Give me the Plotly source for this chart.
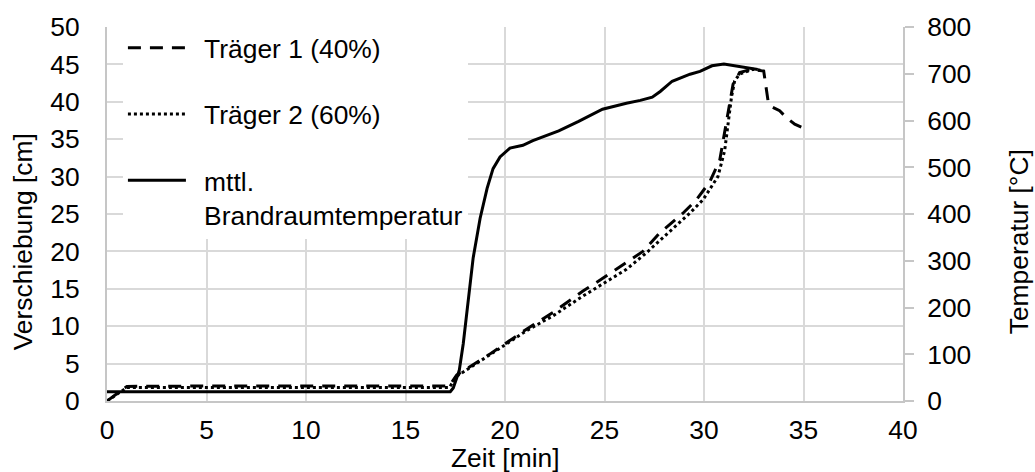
import plotly.graph_objects as go

# Zeit [min] und Verschiebung [cm] – Träger 1 (40%)
t_traeger1 = [0, 1.0, 5, 10, 15, 17.2, 17.57, 18.4, 19.2, 20.0, 21.08, 22.42, 23.92,
              24.97, 26.1, 26.93, 27.77, 28.94, 29.62, 30.29, 30.79, 31.04, 31.26,
              31.46, 31.79, 32.38, 33.0, 33.22, 33.39, 33.8, 34.14, 34.56, 35.0]
v_traeger1 = [0, 1.95, 2.0, 2.0, 2.0, 2.0, 3.45, 4.8, 6.2, 7.65, 9.6, 11.85, 14.7,
              16.5, 18.5, 20.0, 22.45, 25.1, 26.9, 29.3, 32.2, 35.7, 39.3,
              42.35, 43.9, 44.35, 44.1, 40.1, 39.35, 38.8, 37.9, 37.0, 36.5]

# Zeit [min] und Verschiebung [cm] – Träger 2 (60%)
t_traeger2 = [0, 1.0, 5, 10, 15, 17.2, 17.57, 18.4, 20.0, 21.08, 22.42, 23.9, 24.97,
              26.1, 27.1, 28.44, 29.28, 29.95, 30.7, 31.04, 31.2, 31.38, 31.54,
              31.79, 32.46, 32.9]
v_traeger2 = [0, 1.8, 1.8, 1.8, 1.8, 1.8, 3.3, 4.7, 7.5, 9.4, 11.4, 14.0, 15.8,
              17.6, 19.8, 23.0, 25.1, 26.9, 30.0, 33.5, 37.0, 40.6, 42.8,
              43.7, 44.35, 44.2]

# Zeit [min] und mittlere Brandraumtemperatur [°C]
t_temp = [0, 17.25, 17.4, 17.55, 17.7, 17.9, 18.15, 18.4, 18.75, 19.1, 19.4, 19.75,
          20.25, 20.9, 21.4, 22.0, 22.7, 23.7, 24.9, 26.1, 26.8, 27.4, 27.8, 28.4,
          29.3, 29.8, 30.4, 31.0, 31.8, 32.5, 32.7]
temp = [20, 20, 28, 45, 65, 122, 221, 306, 391, 455, 497, 522,
        541, 547, 557, 567, 578, 598, 624, 637, 643, 650, 662, 684,
        699, 705, 717, 721, 716, 711, 709]

x_ticks = list(range(0, 41, 5))
y_ticks = list(range(0, 51, 5))
y2_ticks = list(range(0, 801, 100))

FONT = "Liberation Sans, Arial, sans-serif"
FS = 26.4
GRID = "#d9d9d9"
AXIS = "#c6c6c6"
PAD = "\u2002"  # gap between legend line and legend text

fig = go.Figure()
fig.add_trace(go.Scatter(
    x=t_traeger1, y=v_traeger1, name=PAD + "Träger 1 (40%)", mode="lines",
    line=dict(color="black", width=3, dash="13px,9px"), legendgroup="a"))
fig.add_trace(go.Scatter(
    x=t_traeger2, y=v_traeger2, name=PAD + "Träger 2 (60%)", mode="lines",
    line=dict(color="black", width=3, dash="3px,3px"), legendgroup="b"))
fig.add_trace(go.Scatter(
    x=t_temp, y=temp, name=PAD + "mttl.<br>" + PAD + "Brandraumtemperatur", mode="lines",
    line=dict(color="black", width=3),
    yaxis="y2", legendgroup="c"))

fig.update_layout(
    width=1035, height=472,
    margin=dict(l=107, r=132, t=24, b=71),
    paper_bgcolor="white", plot_bgcolor="white",
    font=dict(family=FONT, size=FS, color="black"),
    showlegend=True,
    legend=dict(
        x=0.02, y=1.008, xanchor="left", yanchor="top",
        bgcolor="white", borderwidth=0,
        font=dict(family=FONT, size=FS, color="black"),
        itemwidth=58, tracegroupgap=29, valign="top",
        traceorder="grouped",
    ),
    xaxis=dict(
        range=[0, 40], tickvals=x_ticks, ticks="",
        showgrid=True, gridcolor=GRID, gridwidth=2,
        showline=True, linecolor=AXIS, linewidth=2,
        zeroline=False, ticklabelstandoff=4,
    ),
    yaxis=dict(
        range=[0, 50], tickvals=y_ticks, ticks="",
        showgrid=True, gridcolor=GRID, gridwidth=2,
        showline=True, linecolor=AXIS, linewidth=2,
        zeroline=False, ticklabelstandoff=20,
    ),
    yaxis2=dict(
        range=[0, 800], tickvals=y2_ticks, overlaying="y", side="right",
        ticks="outside", ticklen=9, tickcolor=AXIS, tickwidth=2,
        showgrid=False, showline=True, linecolor=AXIS, linewidth=2,
        zeroline=False, ticklabelstandoff=8,
    ),
    annotations=[
        dict(text="Zeit [min]", x=0.5, y=-57 / 377, xref="paper", yref="paper",
             xanchor="center", yanchor="middle", showarrow=False,
             font=dict(family=FONT, size=FS)),
        dict(text="Verschiebung [cm]", x=-84 / 796, y=1 - 217 / 377, xref="paper", yref="paper",
             xanchor="center", yanchor="middle", textangle=-90, showarrow=False,
             font=dict(family=FONT, size=FS)),
        dict(text="Temperatur [°C]", x=1 + 116 / 796, y=1 - 217 / 377, xref="paper", yref="paper",
             xanchor="center", yanchor="middle", textangle=-90, showarrow=False,
             font=dict(family=FONT, size=FS)),
    ],
)

fig.write_html("out.html")
